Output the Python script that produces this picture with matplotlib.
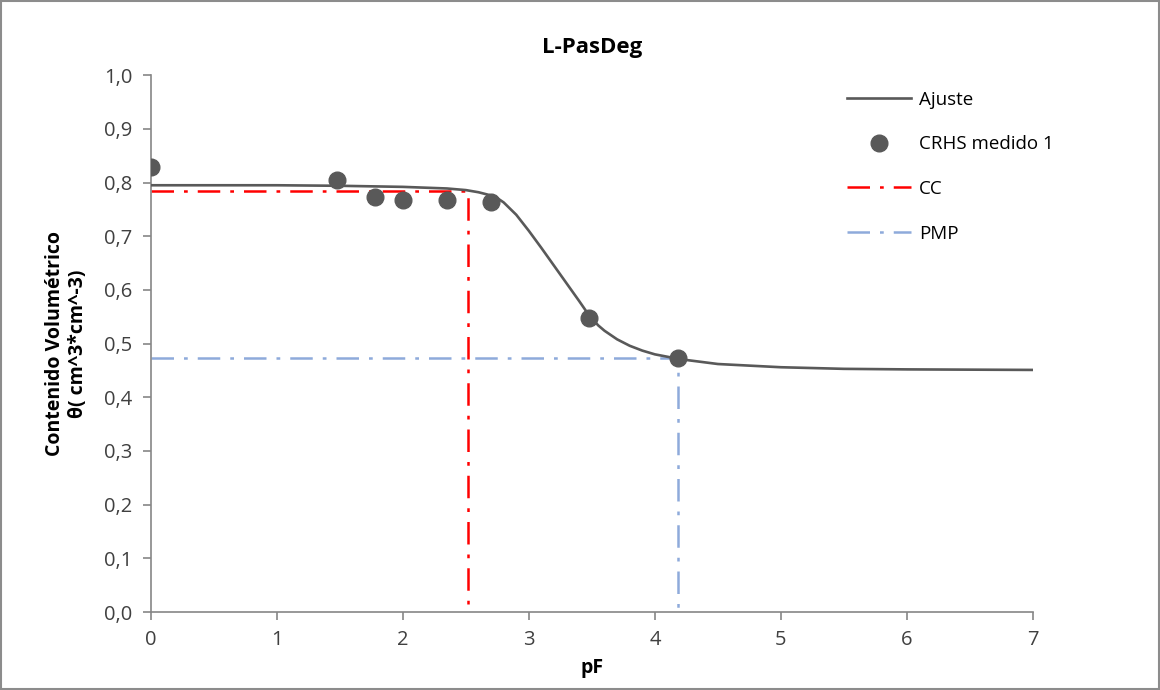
import matplotlib
matplotlib.use("Agg")
import matplotlib.pyplot as plt
from matplotlib.patches import Rectangle
from matplotlib.ticker import FuncFormatter, MultipleLocator

plt.rcParams['font.family'] = ['Open Sans', 'DejaVu Sans']

# measured points (CRHS medido 1)
pf_med = [0.0, 1.48, 1.78, 2.0, 2.35, 2.7, 3.48, 4.18]
theta_med = [0.829, 0.804, 0.773, 0.768, 0.768, 0.763, 0.548, 0.473]

# fitted curve (Ajuste)
pf_fit = [0.0, 1.0, 1.5, 2.0, 2.35, 2.5, 2.6, 2.7, 2.75, 2.8, 2.9, 3.0, 3.1, 3.2, 3.3,
          3.4, 3.45, 3.5, 3.55, 3.6, 3.7, 3.8, 3.9, 4.0, 4.2, 4.5, 5.0, 5.5, 6.0, 7.0]
theta_fit = [0.795, 0.795, 0.794, 0.792, 0.789, 0.786, 0.782, 0.776, 0.771, 0.763,
             0.740, 0.710, 0.678, 0.645, 0.612, 0.579, 0.562, 0.547, 0.534, 0.524,
             0.508, 0.496, 0.487, 0.480, 0.471, 0.462, 0.456, 0.453, 0.452, 0.451]

# CC and PMP reference lines
cc_pf, cc_theta = 2.52, 0.785
pmp_pf, pmp_theta = 4.18, 0.474

fig = plt.figure(figsize=(11.6, 6.9), dpi=100)
ax = fig.add_axes([0.130, 0.113, 0.7605, 0.778])

ax.plot(pf_fit, theta_fit, color='#595959', lw=1.9, label='Ajuste', zorder=3)
ax.plot(pf_med, theta_med, 'o', color='#595959', ms=12, label='CRHS medido 1', zorder=4)
ax.plot([0, cc_pf, cc_pf], [cc_theta, cc_theta, 0], color='#FF0000', lw=1.8,
        dashes=(9, 4, 1.5, 4), label='CC', zorder=2)
ax.plot([0, pmp_pf, pmp_pf], [pmp_theta, pmp_theta, 0], color='#8EAADB', lw=1.8,
        dashes=(9, 4, 1.5, 4), label='PMP', zorder=2)

ax.set_xlim(0, 7)
ax.set_ylim(0, 1.0)
ax.xaxis.set_major_locator(MultipleLocator(1))
ax.yaxis.set_major_locator(MultipleLocator(0.1))
ax.yaxis.set_major_formatter(FuncFormatter(lambda v, p: f"{v:.1f}".replace('.', ',')))
ax.xaxis.set_major_formatter(FuncFormatter(lambda v, p: f"{v:.0f}"))

for s in ['top', 'right']:
    ax.spines[s].set_visible(False)
for s in ['left', 'bottom']:
    ax.spines[s].set_color('#868686')
    ax.spines[s].set_linewidth(1.2)
ax.tick_params(axis='both', direction='out', length=6, width=1.2, color='#868686',
               labelsize=14.5, labelcolor='#404040', pad=7)

ax.set_title('L-PasDeg', fontsize=16, fontweight='bold', pad=16)
ax.set_xlabel('pF', fontsize=14, fontweight='bold', labelpad=6)
ax.set_ylabel('Contenido Volumétrico\nθ( cm^3*cm^-3)', fontsize=14,
              fontweight='bold', labelpad=12)

fig.legend(loc='upper left', bbox_to_anchor=(0.722, 0.882), frameon=False,
           fontsize=13.5, handlelength=3.4, labelspacing=1.42, handletextpad=0.45,
           borderpad=0)

fig.patches.append(Rectangle((0.001, 0.001), 0.998, 0.998, transform=fig.transFigure,
                             fill=False, edgecolor='#8C8C8C', lw=1.5))

fig.savefig('out.png', dpi=100)
